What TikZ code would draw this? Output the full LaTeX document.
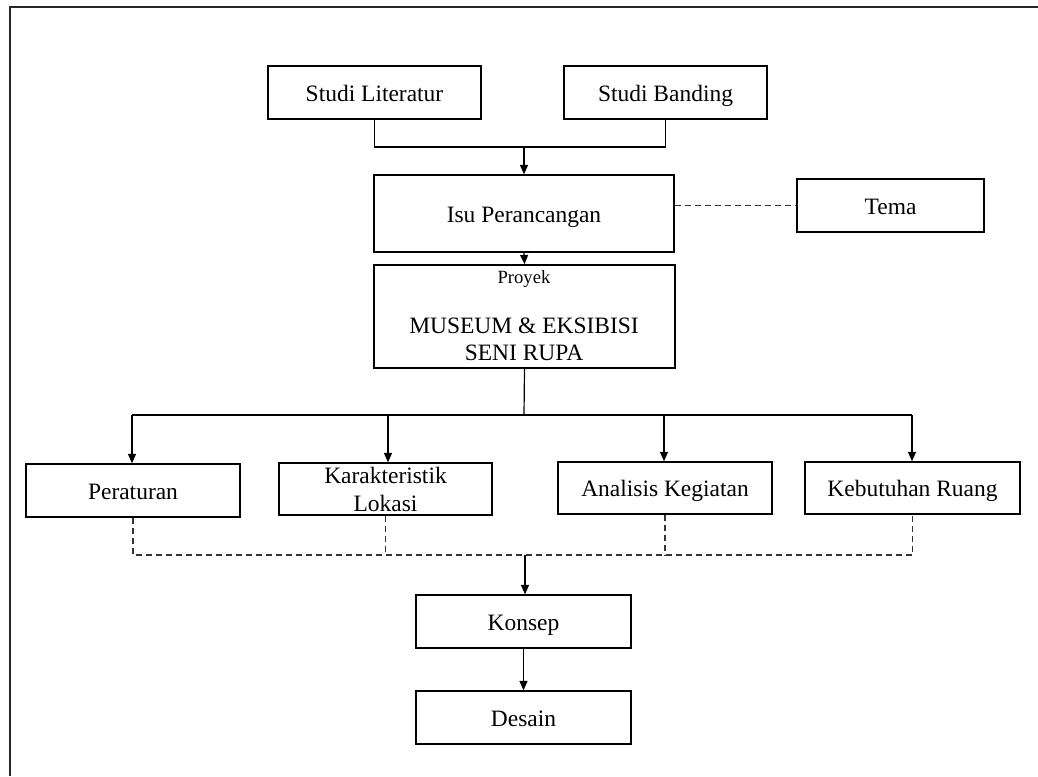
\documentclass[tikz,border=0pt]{standalone}
\usepackage{fontspec}
\setmainfont{Liberation Serif}
\usetikzlibrary{arrows.meta}
\newdimen\pxu
\pxu=0.75pt
\tikzset{
  box/.style={draw=black, line width=1.1pt, inner sep=0pt, align=center,
    font=\fontsize{17.6}{21}\selectfont},
  onebox/.style={box, text height=15pt, text depth=2pt},
  conn/.style={draw=black, line width=0.9pt},
  arr/.style={conn, -{Triangle[length=7pt,width=6pt]}},
  dconn/.style={draw=black!80, line width=0.9pt, dash pattern=on 4.5pt off 3pt},
}
\begin{document}
\begin{tikzpicture}[x=0.75pt,y=-0.75pt]
\useasboundingbox (0,0) rectangle (1038,776);
\draw[line width=1pt, color=black!85] (10,776) -- (10,7) -- (1038,7);

\node[onebox, minimum width=213\pxu, minimum height=53\pxu] (lit) at (374.5,92.5) {Studi Literatur};
\node[onebox, minimum width=203\pxu, minimum height=53\pxu] (band) at (665.5,92.5) {Studi Banding};
\node[onebox, minimum width=300\pxu, minimum height=77\pxu] (isu) at (524,213.5) {Isu Perancangan};
\node[onebox, minimum width=187\pxu, minimum height=53\pxu] (tema) at (890.5,205.5) {Tema};
\node[box, minimum width=301\pxu, minimum height=103\pxu] (proyek) at (524.5,316.5) {};
\node[font=\fontsize{14}{16}\selectfont, inner sep=0pt] (proyeklbl) at (524,279) {Proyek};
\node[font=\fontsize{17.6}{20.25}\selectfont, align=center, inner sep=0pt] (museum) at (524,339) {MUSEUM \& EKSIBISI\\SENI RUPA};

\node[onebox, minimum width=214\pxu, minimum height=53\pxu] (per) at (133,490.5) {Peraturan};
\node[box, minimum width=213\pxu, minimum height=52\pxu] (kar) at (385.5,489) {Karakteristik\\Lokasi};
\node[onebox, minimum width=214\pxu, minimum height=52\pxu] (ana) at (665,488) {Analisis Kegiatan};
\node[onebox, minimum width=215\pxu, minimum height=52\pxu] (keb) at (912.5,488) {Kebutuhan Ruang};

\node[onebox, minimum width=215\pxu, minimum height=53\pxu] (kon) at (523.5,621.5) {Konsep};
\node[onebox, minimum width=215\pxu, minimum height=53\pxu] (des) at (523.5,717.5) {Desain};

\coordinate (j1) at (524,147);
\coordinate (bus) at (524,415);
\coordinate (b1) at (132,415);
\coordinate (b2) at (388,415);
\coordinate (b3) at (664,415);
\coordinate (b4) at (912,415);
\coordinate (dm) at (525,555);

\draw[conn] (lit.south) |- (j1) -| (band.south);
\draw[arr] (j1) -- (isu.north);
\draw[dconn] (isu.east |- tema.west) -- (tema.west);
\draw[arr] (isu.south) -- (proyek.north);
\draw[conn] (proyek.south) -- (bus);
\draw[conn] (b1) -- (b4);
\draw[arr] (b1) -- (b1 |- per.north);
\draw[arr] (b2) -- (b2 |- kar.north);
\draw[arr] (b3) -- (b3 |- ana.north);
\draw[arr] (b4) -- (b4 |- keb.north);

\draw[dconn] (per.south) |- (dm) -| (keb.south);
\draw[dconn] (kar.south) -- (kar.south |- dm);
\draw[dconn] (ana.south) -- (ana.south |- dm);
\draw[arr] (dm) -- (dm |- kon.north);
\draw[arr] (kon.south) -- (des.north);
\end{tikzpicture}
\end{document}
